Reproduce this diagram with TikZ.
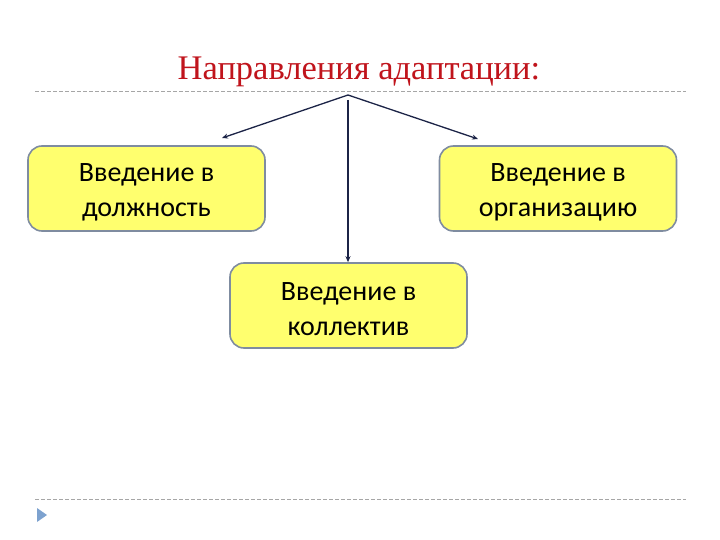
\documentclass[tikz,border=0pt]{standalone}
\usepackage{fontspec}
\setmainfont{Liberation Serif}
\newfontfamily\boxfont{Carlito}
\usetikzlibrary{arrows.meta}
\definecolor{titlered}{HTML}{C0141C}
\definecolor{boxfill}{HTML}{FFFF6E}
\definecolor{boxline}{HTML}{7F8CA0}
\definecolor{conn}{HTML}{1C2447}
\definecolor{rule}{HTML}{A6A6A6}
\definecolor{bullet}{HTML}{7DA2CF}
\tikzset{
  box/.style={draw=boxline, line width=1.6pt, fill=boxfill, rounded corners=14pt,
    minimum width=237pt, minimum height=85pt, inner sep=0pt},
  boxtext/.style={align=center, inner sep=0pt, font=\boxfont\fontsize{28}{35}\selectfont},
  conn/.style={draw=conn, line width=1.3pt, -{Stealth[length=6pt,width=5pt]}},
  rulestyle/.style={draw=rule, line width=0.8pt, dash pattern=on 4pt off 2pt}
}
\begin{document}
\begin{tikzpicture}[x=1pt,y=-1pt]
\useasboundingbox (0,0) rectangle (720,540);
\node[text=titlered, font=\fontsize{34.5}{40}\selectfont, anchor=base] (title) at (359,80) {Направления адаптации:};
\draw[rulestyle] (35,91) -- (686,91);
\draw[rulestyle] (35,499) -- (686,499);
\fill[bullet] (37,508) -- (47,515) -- (37,522) -- cycle;
\node[box] (b1) at (146.5,188.5) {};
\node[box] (b2) at (558,188.5) {};
\node[box] (b3) at (348.5,305.5) {};
\node[boxtext] (t1) at ([yshift=-4pt]b1.center) {Введение в\\должность};
\node[boxtext] (t2) at ([yshift=-4pt]b2.center) {Введение в\\организацию};
\node[boxtext] (t3) at ([yshift=-4pt]b3.center) {Введение в\\коллектив};
\coordinate (apex) at (348,95);
\coordinate (lt) at (222,138);
\coordinate (rt) at (478,139);
\draw[conn] (apex) -- (lt);
\draw[conn] (apex) -- (rt);
\draw[conn] (348,100) -- (b3.north -| 348,0);
\end{tikzpicture}
\end{document}
